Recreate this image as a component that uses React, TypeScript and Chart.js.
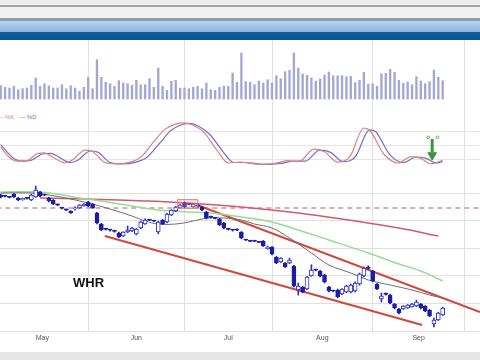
import React, { useEffect, useRef } from "react";
import { Chart, registerables } from "chart.js";
Chart.register(...registerables);

// ---------- data ----------
const volumes = [
  1.33, 1.17, 1.10, 1.27, 0.93, 1.03, 1.10, 1.37, 2.10, 1.27, 1.53, 1.30, 1.10, 1.10, 1.43, 1.03, 1.33, 1.10, 0.77, 1.17,
  2.17, 1.03, 3.93, 2.17, 1.67, 1.53, 1.27, 1.83, 1.60, 1.53, 1.37, 1.87, 1.43, 1.43, 2.03, 1.17, 3.10, 1.27, 0.87, 1.77,
  1.87, 1.10, 1.10, 1.03, 1.17, 1.27, 1.03, 1.60, 0.93, 0.87, 1.17, 1.30, 1.27, 2.60, 1.67, 4.60, 1.73, 1.67, 1.43, 1.80,
  1.60, 1.93, 1.60, 2.33, 2.03, 2.73, 2.87, 4.60, 3.10, 2.50, 2.37, 2.10, 1.80, 2.00, 2.40, 2.70, 2.33, 2.30, 2.33, 2.23,
  2.27, 1.63, 1.87, 2.67, 1.50, 1.53, 1.27, 2.53, 2.57, 2.97, 2.67, 1.87, 1.57, 1.70, 1.43, 2.23, 1.80, 1.53, 1.73, 2.90,
  2.17, 1.83,
];
const opens = [
  84.64, 84.46, 84.30, 84.82, 84.09, 83.75, 84.10, 83.73, 84.28, 85.18, 84.70, 84.09, 83.73, 82.90, 82.35, 82.00, 81.74, 82.10, 82.28, 82.64,
  83.37, 83.01, 81.38, 79.38, 78.50, 78.35, 78.15, 77.75, 77.21, 77.93, 78.12, 77.57, 78.66, 79.38, 80.15, 79.95, 77.93, 80.11, 79.75, 81.01,
  81.74, 82.28, 83.19, 83.05, 82.46, 82.70, 82.46, 81.56, 80.70, 80.50, 80.29, 79.57, 78.50, 78.35, 78.35, 77.93, 76.55, 76.35, 76.35, 76.15,
  76.30, 74.90, 75.22, 73.41, 72.50, 72.32, 72.32, 71.78, 67.43, 67.97, 67.61, 69.96, 71.10, 70.87, 70.14, 67.97, 67.30, 67.43, 66.70, 67.07,
  67.07, 67.25, 68.51, 69.96, 71.45, 70.87, 68.51, 65.80, 66.75, 66.52, 64.89, 63.99, 63.99, 64.17, 64.35, 64.53, 64.89, 64.53, 63.80, 61.27,
  61.99, 62.90,
];
const highs = [
  84.80, 84.60, 84.40, 84.90, 84.20, 84.10, 84.20, 84.80, 86.27, 85.30, 84.80, 84.20, 83.80, 83.00, 82.40, 82.10, 81.80, 82.50, 82.90, 83.10,
  83.50, 83.10, 81.50, 79.50, 78.60, 78.40, 78.20, 77.90, 78.00, 79.02, 78.80, 78.60, 79.90, 80.30, 80.20, 80.00, 79.90, 80.20, 81.30, 82.00,
  82.60, 83.00, 83.40, 83.10, 83.10, 83.00, 82.60, 81.70, 80.80, 80.60, 80.40, 79.70, 78.60, 78.40, 78.50, 78.00, 76.60, 76.40, 76.40, 76.20,
  76.40, 75.40, 75.30, 73.50, 73.30, 72.40, 73.20, 71.90, 68.70, 68.10, 69.90, 72.00, 71.20, 71.00, 70.30, 68.10, 67.40, 67.60, 67.70, 68.30,
  68.50, 68.90, 70.50, 71.60, 71.80, 71.00, 68.60, 66.88, 66.90, 66.70, 65.00, 64.10, 64.60, 64.80, 65.00, 65.60, 65.00, 64.60, 63.90, 62.36,
  63.40, 64.30,
];
const lows = [
  84.10, 84.30, 84.10, 84.20, 83.60, 83.70, 83.90, 83.60, 84.20, 84.30, 84.50, 83.40, 82.90, 82.70, 82.10, 81.80, 81.30, 81.90, 82.20, 82.60,
  82.50, 82.20, 79.40, 78.20, 78.30, 78.10, 77.90, 76.90, 77.10, 77.80, 78.00, 77.40, 78.50, 79.30, 80.00, 79.80, 77.60, 79.30, 79.60, 80.90,
  81.60, 82.20, 82.30, 82.90, 82.40, 82.30, 81.80, 80.30, 80.50, 80.30, 79.10, 78.50, 78.30, 78.10, 78.20, 76.70, 76.40, 76.20, 76.20, 76.00,
  75.30, 74.80, 73.80, 72.20, 72.40, 71.50, 72.20, 68.00, 66.50, 66.90, 67.50, 69.90, 70.90, 69.80, 68.70, 67.10, 67.10, 66.00, 66.60, 66.90,
  66.90, 67.10, 68.30, 69.80, 71.20, 68.90, 67.50, 65.25, 66.50, 64.90, 64.00, 63.10, 63.90, 64.10, 64.30, 64.40, 64.00, 63.50, 62.60, 60.72,
  61.90, 62.80,
];
const closes = [
  84.28, 84.40, 84.20, 84.28, 83.73, 84.05, 84.00, 84.64, 85.54, 84.46, 84.60, 83.55, 83.01, 82.80, 82.25, 81.90, 81.38, 82.28, 82.83, 83.01,
  82.64, 82.28, 79.57, 78.30, 78.40, 78.25, 78.05, 77.03, 77.93, 78.30, 78.66, 78.48, 79.75, 80.11, 80.05, 79.90, 79.75, 79.38, 81.20, 81.92,
  82.46, 82.83, 82.46, 82.95, 83.01, 82.60, 81.92, 80.47, 80.60, 80.40, 79.20, 78.66, 78.40, 78.25, 78.25, 76.85, 76.45, 76.25, 76.25, 76.05,
  75.40, 75.20, 73.95, 72.32, 73.22, 71.59, 72.87, 68.15, 68.15, 67.07, 69.78, 71.05, 71.00, 69.96, 68.88, 67.25, 67.20, 66.16, 67.61, 68.15,
  68.33, 68.70, 70.33, 71.41, 71.35, 69.06, 67.61, 66.34, 66.65, 65.07, 64.17, 63.26, 64.53, 64.71, 64.89, 65.25, 64.17, 63.62, 62.72, 61.99,
  63.26, 64.17,
];

const grayMaDays = [0, 7, 11, 16, 20, 25, 30, 33, 36, 40, 43, 46, 48, 51, 55, 58, 62, 66, 71, 75, 80, 84, 89, 94, 98, 101];
const grayMaValues = [85.0, 85.0, 84.64, 83.91, 83.19, 82.10, 80.83, 79.93, 79.38, 79.38, 79.75, 80.29, 80.47, 80.47, 80.11, 79.38, 78.66, 76.85, 74.13, 71.96, 70.51, 69.24, 68.33, 67.43, 66.52, 65.98];
const greenMaDays = [0, 9, 14, 18, 23, 30, 36, 43, 48, 55, 62, 68, 75, 84, 91, 96, 101];
const greenMaValues = [85.18, 85.18, 84.64, 84.09, 83.55, 82.64, 81.92, 81.56, 81.38, 80.65, 79.75, 78.30, 76.49, 74.13, 72.14, 70.87, 69.06];
const pinkMaDays = [9, 20, 34, 46, 55, 68, 78, 91, 100];
const pinkMaValues = [84.09, 83.91, 83.55, 83.01, 82.46, 81.38, 80.29, 78.66, 77.21];
const upperChannelDays = [44.9, 109.5];
const upperChannelValues = [82.83, 63.44];
const lowerChannelDays = [23.8, 96.3];
const lowerChannelValues = [77.21, 61.09];
const resistanceDays = [-1, 111];
const resistanceValues = [82.28, 82.28];
const highlightDays = [40.3, 44.9];
const highlightPrices = [82.3, 83.9];

const stochKDays = [0, 2, 3.7, 6, 8.5, 10, 12, 14.7, 16.3, 19.3, 21, 23.8, 26, 30, 32.3, 35.3, 37.5, 39.8, 41.7, 43.7, 46.5, 49.4, 52, 54.7, 58.8, 62.7, 65.7, 67.5, 68.4, 71.6, 74.1, 76.9, 79.8, 83, 84.4, 87.6, 90.8, 93.8, 96, 98.3, 101];
const stochKValues = [47, 24, 16, 17, 33, 34, 24, 12, 18, 40, 37, 13, 10, 15, 27, 62, 85, 96, 99, 95, 78, 40, 12, 14, 9, 11, 17, 15, 16, 42, 36, 14, 26, 88, 82, 31, 12, 26, 22, 10, 18];
const stochDDays = [0, 3, 5, 7, 9.7, 11.3, 16, 17.6, 20.5, 22.3, 25, 27.5, 31, 33.5, 36.6, 38.8, 41, 43, 45, 47.8, 50.7, 53.2, 56, 60, 64, 67, 69.6, 72.9, 75.4, 78.2, 81, 84.3, 85.7, 88.9, 92, 95, 97.2, 99.5, 101];
const stochDValues = [52, 22, 16, 18, 32, 33, 13, 18, 38, 35, 13, 10, 14, 25, 58, 82, 94, 98, 93, 74, 38, 13, 13, 9, 11, 16, 16, 40, 35, 15, 25, 84, 80, 30, 13, 25, 22, 12, 15];
const arrowDay = 98.6;
const arrowShaft = [64, 36];
const arrowHead = 29;
const signalDots = [[97.7, 67.8], [99.8, 67.8]];

const gridDays = [20, 42, 62, 85, 106];
const monthDays = [9.5, 31, 52, 73.5, 95.5];
const monthLabels = ["May", "Jun", "Jul", "Aug", "Sep"];
const stochGrid = [20, 50, 80];
const priceGrid = [60, 65, 70, 75, 80, 85];

// ---------- helpers ----------
const dayIdx = volumes.map((_, i) => i);
const pts = (xs: number[], ys: number[]) => xs.map((x, i) => ({ x, y: ys[i] }));
const isUp = (i: number) => closes[i] >= opens[i];
const FILL = "#1c1ca8";
const EDGE = "#3030c8";

const X_MIN = -0.16;
const X_MAX = 109.53;

const boxPlugin = {
  id: "highlightBox",
  afterDatasetsDraw(chart: any) {
    const { ctx, scales } = chart;
    const x1 = scales.x.getPixelForValue(highlightDays[0]);
    const x2 = scales.x.getPixelForValue(highlightDays[1]);
    const y1 = scales.yPrice.getPixelForValue(highlightPrices[1]);
    const y2 = scales.yPrice.getPixelForValue(highlightPrices[0]);
    ctx.save();
    ctx.fillStyle = "rgba(240,150,150,0.30)";
    ctx.strokeStyle = "#e08888";
    ctx.lineWidth = 1;
    ctx.fillRect(x1, y1, x2 - x1, y2 - y1);
    ctx.strokeRect(x1 + 0.5, y1 + 0.5, x2 - x1, y2 - y1);
    ctx.restore();
  },
};

const hiddenY = (min: number, max: number, ticks: number[] | null, color: string) => ({
  type: "linear",
  position: "left",
  min,
  max,
  display: true,
  border: { display: false },
  ticks: { display: false },
  grid: { display: !!ticks, drawTicks: false, color, lineWidth: 1 },
  afterBuildTicks: (s: any) => {
    if (ticks) s.ticks = ticks.map((v) => ({ value: v }));
  },
  afterFit: (s: any) => {
    s.width = 0;
  },
});

export default function App() {
  const ref = useRef<HTMLCanvasElement>(null);
  useEffect(() => {
    Chart.defaults.font.family = "'Liberation Sans', Arial, sans-serif";
    const allTicks = [...gridDays, ...monthDays].sort((a, b) => a - b);
    const lineDs = (data: any[], color: string, width: number, order: number, extra: any = {}) => ({
      type: "line",
      yAxisID: "yPrice",
      data,
      borderColor: color,
      borderWidth: width,
      pointRadius: 0,
      tension: 0.35,
      fill: false,
      order,
      ...extra,
    });
    const chart = new Chart(ref.current as HTMLCanvasElement, {
      type: "bar",
      data: {
        datasets: [
          {
            type: "bar",
            label: "body",
            yAxisID: "yPrice",
            data: dayIdx.map((i) => ({ x: i, y: [Math.min(opens[i], closes[i]), Math.max(opens[i], closes[i])] })),
            backgroundColor: (c: any) => (isUp(c.dataIndex) ? "#ffffff" : FILL),
            borderColor: (c: any) => (isUp(c.dataIndex) ? EDGE : FILL),
            borderWidth: 1,
            borderSkipped: false,
            barThickness: 4,
            minBarLength: 1.2,
            grouped: false,
            order: 1,
          },
          {
            type: "bar",
            label: "wick",
            yAxisID: "yPrice",
            data: dayIdx.map((i) => ({ x: i, y: [lows[i], highs[i]] })),
            backgroundColor: (c: any) => (isUp(c.dataIndex) ? EDGE : FILL),
            borderWidth: 0,
            barThickness: 1,
            grouped: false,
            order: 2,
          },
          lineDs(pts(grayMaDays, grayMaValues), "#6e6e6e", 1, 3),
          lineDs(pts(greenMaDays, greenMaValues), "#96dc96", 1.5, 4),
          lineDs(pts(pinkMaDays, pinkMaValues), "#d25a6e", 1.5, 5),
          lineDs(pts(upperChannelDays, upperChannelValues), "#d2473c", 2, 6, { tension: 0 }),
          lineDs(pts(lowerChannelDays, lowerChannelValues), "#d2473c", 2, 6, { tension: 0 }),
          lineDs(pts(resistanceDays, resistanceValues), "#d49494", 1.5, 7, { tension: 0, borderDash: [5, 4] }),
          {
            type: "bar",
            label: "Volume",
            yAxisID: "yVol",
            data: dayIdx.map((i) => ({ x: i, y: volumes[i] })),
            backgroundColor: "#a6a6d4",
            borderWidth: 0,
            barThickness: 1.7,
            grouped: false,
            order: 8,
          },
          {
            type: "line",
            label: "%D",
            yAxisID: "yStoch",
            data: pts(stochDDays, stochDValues),
            borderColor: "#7070c4",
            borderWidth: 1.2,
            pointRadius: 0,
            cubicInterpolationMode: "monotone",
            order: 9,
          },
          {
            type: "line",
            label: "%K",
            yAxisID: "yStoch",
            data: pts(stochKDays, stochKValues),
            borderColor: "#e08080",
            borderWidth: 1.2,
            pointRadius: 0,
            cubicInterpolationMode: "monotone",
            order: 8.5,
          },
          {
            type: "line",
            label: "arrow",
            yAxisID: "yStoch",
            data: arrowShaft.map((v) => ({ x: arrowDay, y: v })),
            borderColor: "#3c963c",
            borderWidth: 3,
            pointRadius: 0,
            order: 0,
          },
          {
            type: "scatter",
            label: "arrowHead",
            yAxisID: "yStoch",
            data: [{ x: arrowDay, y: arrowHead }],
            pointStyle: "triangle",
            rotation: 180,
            radius: 5,
            backgroundColor: "#3c963c",
            borderColor: "#3c963c",
            order: 0,
          },
          {
            type: "scatter",
            label: "dots",
            yAxisID: "yStoch",
            data: signalDots.map((d) => ({ x: d[0], y: d[1] })),
            radius: 1.3,
            backgroundColor: "#ffffff",
            borderColor: "#5aa85a",
            borderWidth: 1,
            order: 0,
          },
        ] as any,
      },
      options: {
        animation: false,
        responsive: false,
        layout: { padding: 0, autoPadding: false },
        plugins: { legend: { display: false }, tooltip: { enabled: false } },
        scales: {
          x: {
            type: "linear",
            min: X_MIN,
            max: X_MAX,
            offset: false,
            position: "bottom",
            border: { display: false },
            grid: {
              offset: false,
              drawTicks: false,
              lineWidth: 1,
              color: (c: any) => (c.tick && gridDays.includes(c.tick.value) ? "#e0e0e0" : "rgba(0,0,0,0)"),
            },
            ticks: {
              autoSkip: false,
              maxRotation: 0,
              padding: 1.5,
              font: { size: 7 },
              color: "#555555",
              callback: (v: any) => {
                const k = monthDays.indexOf(Number(v));
                return k >= 0 ? monthLabels[k] : "";
              },
            },
            afterBuildTicks: (s: any) => {
              s.ticks = allTicks.map((v) => ({ value: v }));
            },
            afterFit: (s: any) => {
              s.height = 20;
            },
          },
          yVol: { ...hiddenY(-23.3, 5.9, null, "#e3e3e3") },
          yStoch: { ...hiddenY(-355.43, 279.35, stochGrid, "#e6e6e6") },
          yPrice: { ...hiddenY(59.82, 112.72, priceGrid, "#e0e0e0") },
        } as any,
      },
      plugins: [boxPlugin],
    } as any);
    return () => chart.destroy();
  }, []);

  const abs = (top: number, h: number, bg: string): React.CSSProperties => ({
    position: "absolute",
    left: 0,
    top,
    width: 480,
    height: h,
    background: bg,
  });

  return (
    <div style={{ position: "fixed", left: 0, top: 0, width: 480, height: 360, background: "#ffffff", overflow: "hidden", fontFamily: "'Liberation Sans', Arial, sans-serif" }}>
      <div style={abs(0, 5, "#eeeeee")} />
      <div style={abs(5, 1.5, "#a4a4a4")} />
      <div style={abs(6.5, 11.5, "#f0f0f0")} />
      <div style={abs(18, 2.5, "#8f9cab")} />
      <div style={{ ...abs(20.5, 11.5, ""), background: "linear-gradient(#b8d4ee, #8cb6de)" }} />
      <div style={{ ...abs(32, 8, ""), background: "linear-gradient(#0f609e, #0a5592)" }} />
      <canvas ref={ref} width={480} height={312} style={{ position: "absolute", left: 0, top: 40 }} />
      <div style={{ position: "absolute", left: 0, top: 114, fontSize: 6, lineHeight: "7px", whiteSpace: "nowrap" }}>
        <span style={{ color: "#e07c7c" }}>– %K</span>
        <span style={{ color: "#6e6ec8", marginLeft: 5 }}>— %D</span>
      </div>
      <div style={{ position: "absolute", left: 73, top: 276, fontSize: 13, lineHeight: "13px", fontWeight: "bold", color: "#111111" }}>WHR</div>
      <div style={abs(352, 8, "#e6e6e6")} />
    </div>
  );
}
